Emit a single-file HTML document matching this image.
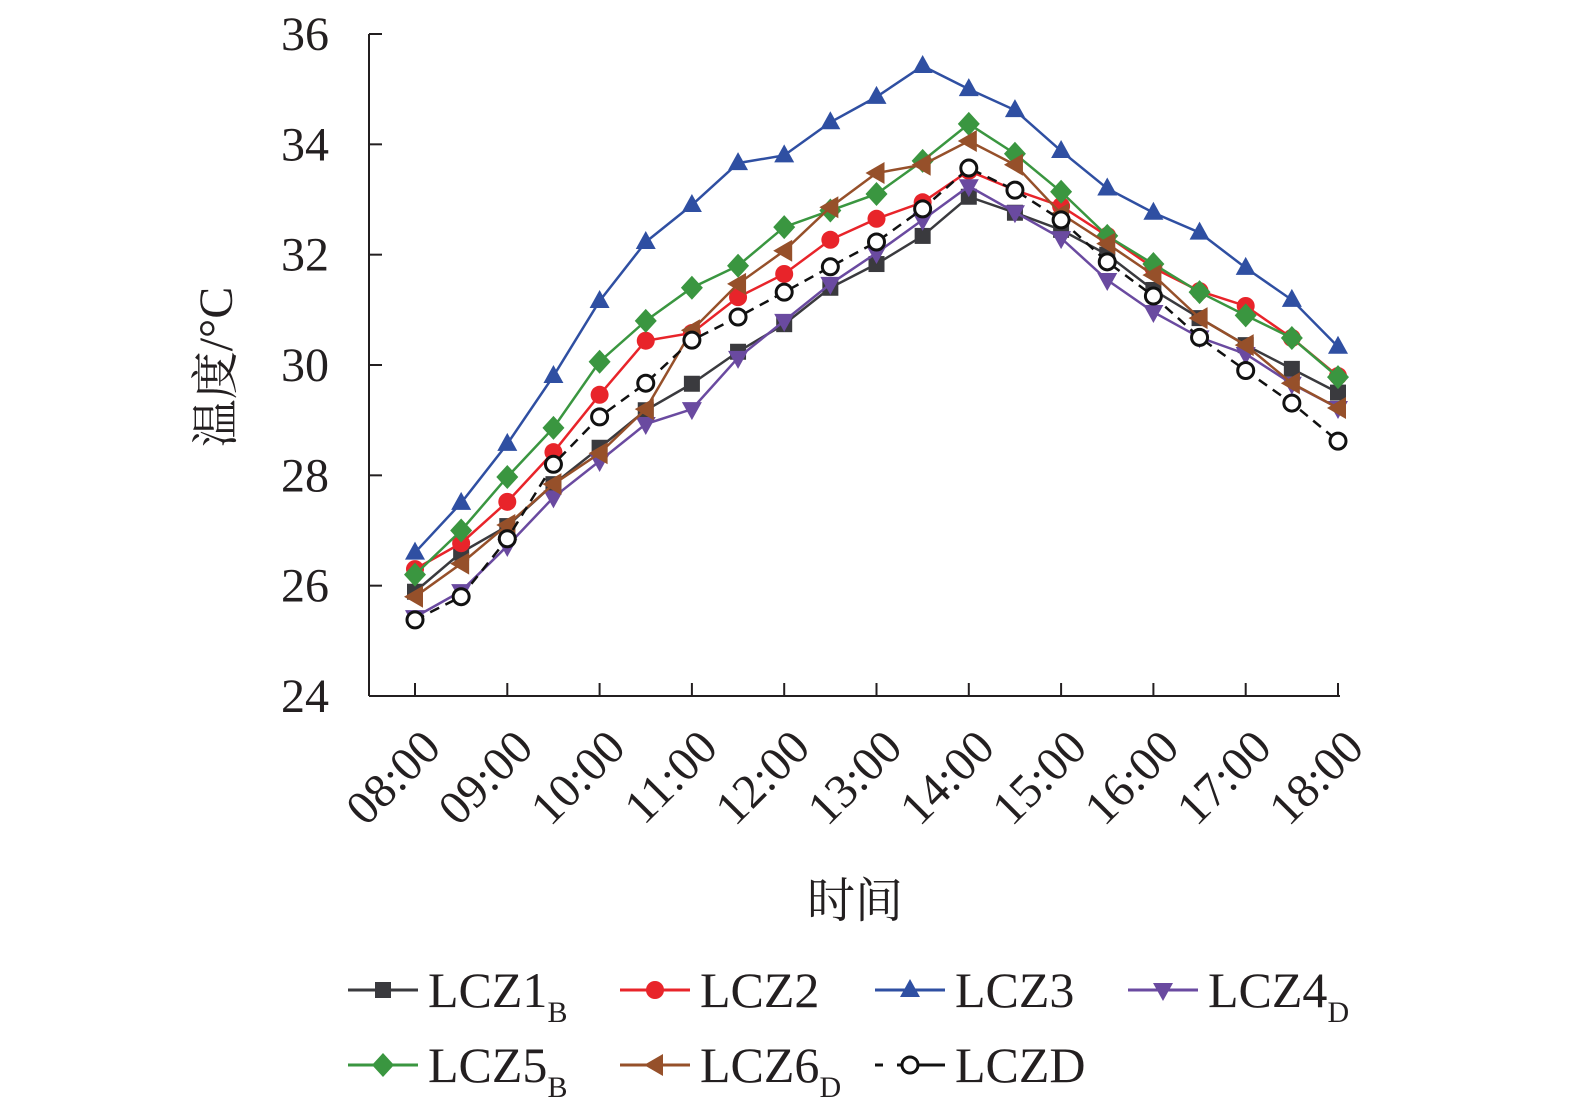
<!DOCTYPE html>
<html><head><meta charset="utf-8"><style>
body{margin:0;background:#fff}
svg{display:block}
text{font-family:"Liberation Serif","Noto Serif CJK SC",serif;fill:#231f20}
</style></head><body>
<svg id="chart" width="1575" height="1118" viewBox="0 0 1575 1118">
<g id="axes"></g>
<g id="series"></g>
<g id="legend"></g>
</svg>
<script>
const times=["08:00","09:00","10:00","11:00","12:00","13:00","14:00","15:00","16:00","17:00","18:00"];
const yTicks=[24,26,28,30,32,34,36];
const lcz1=[25.89,26.6,27.08,27.84,28.5,29.18,29.66,30.24,30.74,31.4,31.83,32.34,33.05,32.76,32.45,32.0,31.36,30.85,30.36,29.93,29.5];
const lcz2=[26.3,26.77,27.52,28.42,29.46,30.44,30.58,31.23,31.65,32.27,32.65,32.95,33.52,33.17,32.88,32.34,31.76,31.34,31.07,30.49,29.8];
const lcz3=[26.6,27.5,28.57,29.8,31.16,32.23,32.9,33.66,33.8,34.4,34.86,35.42,35.0,34.62,33.88,33.2,32.76,32.4,31.76,31.18,30.33];
const lcz4=[25.43,25.9,26.72,27.6,28.26,28.93,29.2,30.13,30.8,31.47,32.03,32.63,33.24,32.77,32.3,31.54,30.96,30.5,30.2,29.66,29.22];
const lcz5=[26.2,27.0,27.97,28.86,30.06,30.8,31.4,31.8,32.5,32.8,33.1,33.7,34.37,33.83,33.14,32.34,31.83,31.32,30.9,30.49,29.78];
const lcz6=[25.8,26.4,27.1,27.84,28.4,29.2,30.63,31.47,32.07,32.86,33.48,33.63,34.06,33.63,32.74,32.2,31.63,30.85,30.36,29.67,29.22];
const lczd=[25.38,25.8,26.85,28.2,29.06,29.67,30.45,30.87,31.32,31.78,32.23,32.83,33.57,33.17,32.63,31.87,31.25,30.5,29.9,29.31,28.62];

const NS="http://www.w3.org/2000/svg";
const X0=415,X1=1338,Y0=696,Y1=34;
function xs(i){return X0+(X1-X0)*i/20;}
function ys(v){return Y0-(v-24)/12*(Y0-Y1);}
function mk(tag,attrs,parent){const e=document.createElementNS(NS,tag);for(const k in attrs)e.setAttribute(k,attrs[k]);parent.appendChild(e);return e;}
const axes=document.getElementById('axes');
let e;
e=mk('line',{x1:369,y1:Y1,x2:369,y2:Y0,stroke:'#231f20','stroke-width':2},axes);


e=mk('line',{x1:369,y1:Y0,x2:X1+2,y2:Y0,stroke:'#231f20','stroke-width':2},axes);


yTicks.forEach(t=>{
  const y=ys(t);
  e=mk('line',{x1:369,y1:y,x2:382,y2:y,stroke:'#231f20','stroke-width':2},axes);
  
  
  e=mk('text',{x:329,y:y+16,'text-anchor':'end','font-size':48},axes);e.textContent=t;
  
  
});
times.forEach((t,i)=>{
  const x=xs(i*2);
  e=mk('line',{x1:x,y1:Y0,x2:x,y2:Y0-13,stroke:'#231f20','stroke-width':2},axes);
  
  
  e=mk('text',{x:x+28,y:Y0+54,'text-anchor':'end','font-size':48,transform:`rotate(-45 ${x+28} ${Y0+54})`},axes);e.textContent=t;
  
  
});
e=mk('text',{x:855,y:917,'text-anchor':'middle','font-size':48},axes);e.textContent='时间';


e=mk('text',{x:232,y:367,'text-anchor':'middle','font-size':48,transform:'rotate(-90 232 367)'},axes);e.textContent='温度/°C';



const cfg=[
 {d:lcz1,c:'#3a3a3e',m:'square',dash:null,name:'lcz1b'},
 {d:lcz2,c:'#e8242a',m:'circle',dash:null,name:'lcz2'},
 {d:lcz3,c:'#2f4fa2',m:'tri',dash:null,name:'lcz3'},
 {d:lcz4,c:'#6a4aa0',m:'tridown',dash:null,name:'lcz4d'},
 {d:lcz5,c:'#3a9640',m:'diamond',dash:null,name:'lcz5b'},
 {d:lcz6,c:'#96502a',m:'left',dash:null,name:'lcz6d'},
 {d:lczd,c:'#111',m:'open',dash:'10,7',name:'lczd'}
];
function marker(m,x,y,c,g){
  if(m==='square')return mk('rect',{x:x-8,y:y-8,width:16,height:16,fill:c},g);
  if(m==='circle')return mk('circle',{cx:x,cy:y,r:9,fill:c},g);
  if(m==='tri')return mk('polygon',{points:`${x},${y-11} ${x-10},${y+7} ${x+10},${y+7}`,fill:c},g);
  if(m==='tridown')return mk('polygon',{points:`${x},${y+11} ${x-10},${y-7} ${x+10},${y-7}`,fill:c},g);
  if(m==='diamond')return mk('polygon',{points:`${x},${y-12} ${x+11},${y} ${x},${y+12} ${x-11},${y}`,fill:c},g);
  if(m==='left')return mk('polygon',{points:`${x-11},${y} ${x+8},${y-11} ${x+8},${y+11}`,fill:c},g);
  return mk('circle',{cx:x,cy:y,r:8,fill:'#fff',stroke:c,'stroke-width':3},g);
}
const sg=document.getElementById('series');
cfg.forEach(s=>{
  const g=mk('g',{},sg);
  
  
  const pts=s.d.map((v,i)=>xs(i)+','+ys(v)).join(' ');
  const pl=mk('polyline',{points:pts,fill:'none',stroke:s.c,'stroke-width':2.5},g);
  if(s.dash)pl.setAttribute('stroke-dasharray',s.dash);
  
  
  s.d.forEach((v,i)=>{
    const p=marker(s.m,xs(i),ys(v),s.c,g);
    
    
  });
});
const leg=[
 {i:0,x:348,y:990,t:'LCZ1',sub:'B'},
 {i:1,x:620,y:990,t:'LCZ2',sub:''},
 {i:2,x:875,y:990,t:'LCZ3',sub:''},
 {i:3,x:1128,y:990,t:'LCZ4',sub:'D'},
 {i:4,x:348,y:1065,t:'LCZ5',sub:'B'},
 {i:5,x:620,y:1065,t:'LCZ6',sub:'D'},
 {i:6,x:875,y:1065,t:'LCZD',sub:''}
];
const lg=document.getElementById('legend');
leg.forEach(l=>{
  const s=cfg[l.i];
  const g=mk('g',{},lg);
  
  
  const ln=mk('line',{x1:l.x,y1:l.y,x2:l.x+70,y2:l.y,stroke:s.c,'stroke-width':3},g);
  if(s.dash)ln.setAttribute('stroke-dasharray','8,14,50,20,6');
  marker(s.m,l.x+35,l.y,s.c,g);
  const t=mk('text',{x:l.x+80,y:l.y+17,'font-size':50},g);
  t.textContent=l.t;
  if(l.sub){const ts=mk('tspan',{'font-size':30,dy:15},t);ts.textContent=l.sub;}
});
</script>
</body></html>
